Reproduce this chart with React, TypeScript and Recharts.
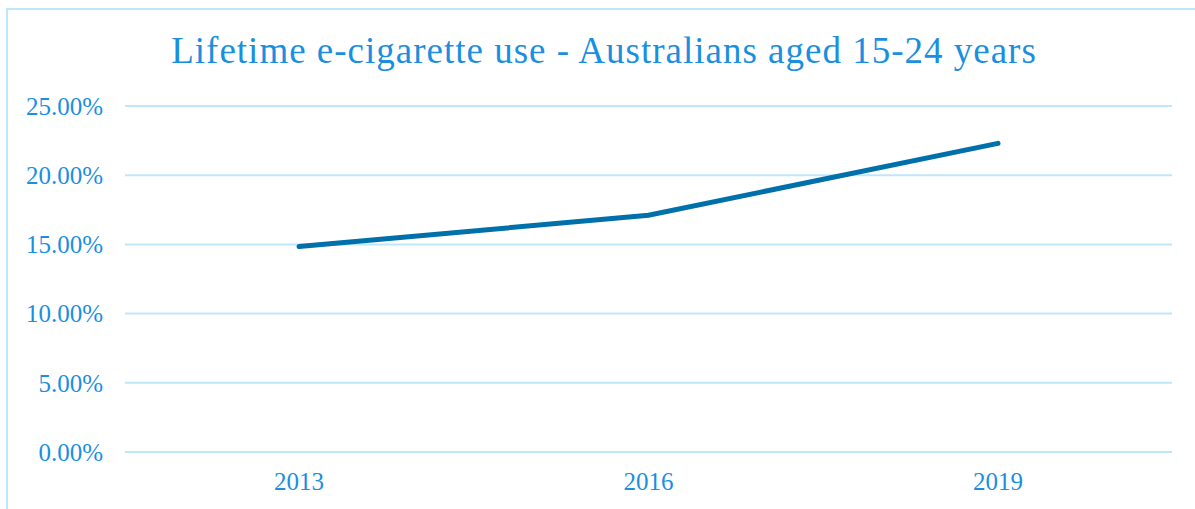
import { LineChart, Line, CartesianGrid, XAxis, YAxis } from 'recharts'

const years = ['2013', '2016', '2019']
const lifetimeUse = [0.1484, 0.1711, 0.223]
const yTicks = [0, 0.05, 0.1, 0.15, 0.2, 0.25]

const data = years.map((year, i) => ({ year, value: lifetimeUse[i] }))

const TEXT_BLUE = '#1A8FE0'
const GRID_BLUE = '#BFE6FB'
const LINE_BLUE = '#0070AB'
const FONT = '"Liberation Serif", serif'

const App = () => {
  return (
    <div
      style={{
        position: 'absolute',
        left: 0,
        top: 0,
        width: 1195,
        height: 509,
        overflow: 'hidden',
        background: '#fff',
      }}
    >
      {/* Frame around the chart, runs off the right and bottom edges */}
      <div
        style={{
          position: 'absolute',
          left: 6,
          top: 8,
          width: 1200,
          height: 520,
          border: `2px solid ${GRID_BLUE}`,
        }}
      />

      {/* Title */}
      <div
        style={{
          position: 'absolute',
          left: 0,
          top: 33,
          width: 1208,
          textAlign: 'center',
          fontFamily: FONT,
          fontSize: 37,
          letterSpacing: 1,
          lineHeight: '36px',
          color: TEXT_BLUE,
          whiteSpace: 'nowrap',
        }}
      >
        Lifetime e-cigarette use - Australians aged 15-24 years
      </div>

      <div style={{ position: 'absolute', left: 0, top: 0 }}>
        <LineChart
          width={1195}
          height={509}
          data={data}
          margin={{ top: 106, right: 23, left: 0, bottom: 27 }}
        >
          <CartesianGrid vertical={false} stroke={GRID_BLUE} strokeWidth={2} />
          <XAxis
            dataKey="year"
            height={30}
            padding={{ left: 174, right: 174 }}
            axisLine={false}
            tickLine={false}
            tickSize={0}
            tickMargin={20}
            tick={{ fill: TEXT_BLUE, fontSize: 25, fontFamily: FONT }}
          />
          <YAxis
            width={125}
            domain={[0, 0.25]}
            ticks={yTicks}
            axisLine={false}
            tickLine={false}
            tickSize={0}
            tickMargin={22}
            tickFormatter={(v: number) => `${(v * 100).toFixed(2)}%`}
            tick={{ fill: TEXT_BLUE, fontSize: 25, fontFamily: FONT }}
          />
          <Line
            type="linear"
            dataKey="value"
            stroke={LINE_BLUE}
            strokeWidth={5}
            strokeLinecap="round"
            dot={false}
            isAnimationActive={false}
          />
        </LineChart>
      </div>
    </div>
  )
}

export default App
